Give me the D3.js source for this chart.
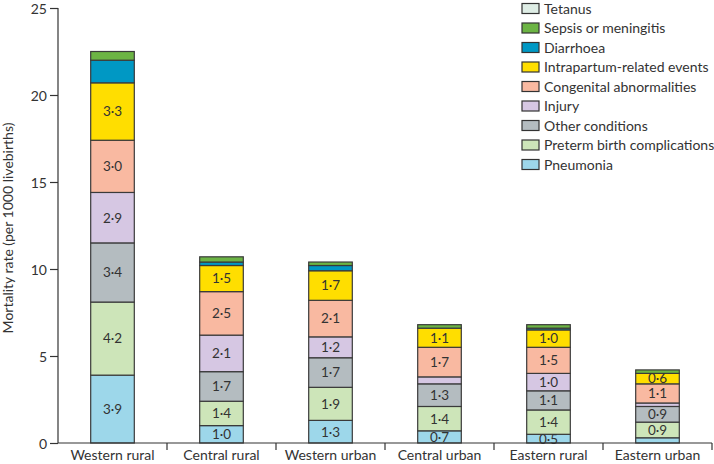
<!DOCTYPE html>
<html>
<head>
<meta charset="utf-8">
<script src="https://cdn.jsdelivr.net/npm/d3@7"></script>
<style>
  html, body { margin: 0; padding: 0; background: #fff; }
  svg { display: block; }
  text { font-family: Lato, "Open Sans", sans-serif; fill: #333; }
</style>
</head>
<body>
<svg id="chart" width="714" height="464"></svg>
<script>
// ---- data ----
const categories = ["Western rural", "Central rural", "Western urban", "Central urban", "Eastern rural", "Eastern urban"];
const seriesNames = ["Pneumonia", "Preterm birth complications", "Other conditions", "Injury",
  "Congenital abnormalities", "Intrapartum-related events", "Diarrhoea", "Sepsis or meningitis", "Tetanus"];
const pneumonia   = [3.9, 1.0, 1.3, 0.7, 0.5, 0.3];
const preterm     = [4.2, 1.4, 1.9, 1.4, 1.4, 0.9];
const other       = [3.4, 1.7, 1.7, 1.3, 1.1, 0.9];
const injury      = [2.9, 2.1, 1.2, 0.4, 1.0, 0.2];
const congenital  = [3.0, 2.5, 2.1, 1.7, 1.5, 1.1];
const intrapartum = [3.3, 1.5, 1.7, 1.1, 1.0, 0.6];
const diarrhoea   = [1.3, 0.2, 0.3, 0.0, 0.1, 0.0];
const sepsis      = [0.5, 0.3, 0.2, 0.2, 0.2, 0.2];
const tetanus     = [0.0, 0.0, 0.0, 0.0, 0.0, 0.0];
const yTicks = [0, 5, 10, 15, 20, 25];
const colors = ["#9dd7ea", "#cde5b9", "#b4bcc0", "#d6c7e3", "#f9b9a1", "#ffde00", "#0098c4", "#6cb444", "#deede5"];
const unlabeled = ["Sepsis or meningitis", "Tetanus", "Diarrhoea"];

const values = [pneumonia, preterm, other, injury, congenital, intrapartum, diarrhoea, sepsis, tetanus];
const table = categories.map((c, i) => {
  const row = { category: c };
  seriesNames.forEach((s, j) => row[s] = values[j][i]);
  return row;
});

// ---- layout ----
const svg = d3.select("#chart");
const x = d3.scaleBand().domain(categories).range([58, 712]).padding(0);
const y = d3.scaleLinear().domain([0, 25]).range([443, 8]);
const barW = x.bandwidth() * 0.4;
const color = d3.scaleOrdinal().domain(seriesNames).range(colors);

const stack = d3.stack().keys(seriesNames)(table);

// bars
const g = svg.append("g");
stack.forEach(layer => {
  const key = layer.key;
  layer.forEach(d => {
    const v = d[1] - d[0];
    if (v <= 0) return;
    const cx = x(d.data.category) + x.bandwidth() / 2;
    g.append("rect")
      .attr("x", cx - barW / 2)
      .attr("y", y(d[1]))
      .attr("width", barW)
      .attr("height", y(d[0]) - y(d[1]))
      .attr("fill", color(key))
      .attr("stroke", "#3a3a3a")
      .attr("stroke-width", 1.2);
  });
});
// labels
stack.forEach(layer => {
  const key = layer.key;
  if (unlabeled.includes(key)) return;
  layer.forEach(d => {
    const v = d[1] - d[0];
    if (v < 0.5) return;
    const cx = x(d.data.category) + x.bandwidth() / 2;
    g.append("text")
      .attr("x", cx)
      .attr("y", (y(d[0]) + y(d[1])) / 2)
      .attr("dy", "0.36em")
      .attr("text-anchor", "middle")
      .attr("font-size", 13.5)
      .text(d3.format(".1f")(v).replace(".", "·"));
  });
});

// y axis
const yAxis = svg.append("g").attr("transform", "translate(58,0)")
  .call(d3.axisLeft(y).tickValues(yTicks).tickSize(8).tickPadding(3).tickFormat(d3.format("d")));
yAxis.select(".domain").attr("stroke", "#333").attr("stroke-width", 1.2).attr("d", `M0,${y(0)}V${y(25)}`);
yAxis.selectAll(".tick line").attr("stroke", "#333").attr("stroke-width", 1.2);
yAxis.selectAll(".tick text").attr("font-size", 14).attr("fill", "#333").attr("dy", "0.38em")
  .style("font-family", "Lato, 'Open Sans', sans-serif");

// x axis
const xg = svg.append("g");
xg.append("line").attr("x1", 58).attr("x2", 712).attr("y1", y(0)).attr("y2", y(0))
  .attr("stroke", "#333").attr("stroke-width", 1.2);
categories.forEach(c => {
  const bx = x(c) + x.bandwidth();
  xg.append("line").attr("x1", bx).attr("x2", bx).attr("y1", y(0)).attr("y2", y(0) + 7)
    .attr("stroke", "#333").attr("stroke-width", 1.2);
  xg.append("text")
    .attr("x", x(c) + x.bandwidth() / 2)
    .attr("y", 460)
    .attr("text-anchor", "middle")
    .attr("font-size", 14)
    .text(c);
});

// y label
svg.append("text")
  .attr("transform", "translate(13,228) rotate(-90)")
  .attr("text-anchor", "middle")
  .attr("font-size", 14)
  .text("Mortality rate (per 1000 livebirths)");

// legend
const legendNames = seriesNames.slice().reverse();
const lg = svg.append("g");
legendNames.forEach((s, i) => {
  const cy = 8.5 + i * 19.5;
  lg.append("rect").attr("x", 522).attr("y", cy - 5).attr("width", 17).attr("height", 10)
    .attr("fill", color(s)).attr("stroke", "#333").attr("stroke-width", 1.2);
  lg.append("text").attr("x", 544).attr("y", cy).attr("dy", "0.38em")
    .attr("font-size", 14).text(s);
});
</script>
</body>
</html>
